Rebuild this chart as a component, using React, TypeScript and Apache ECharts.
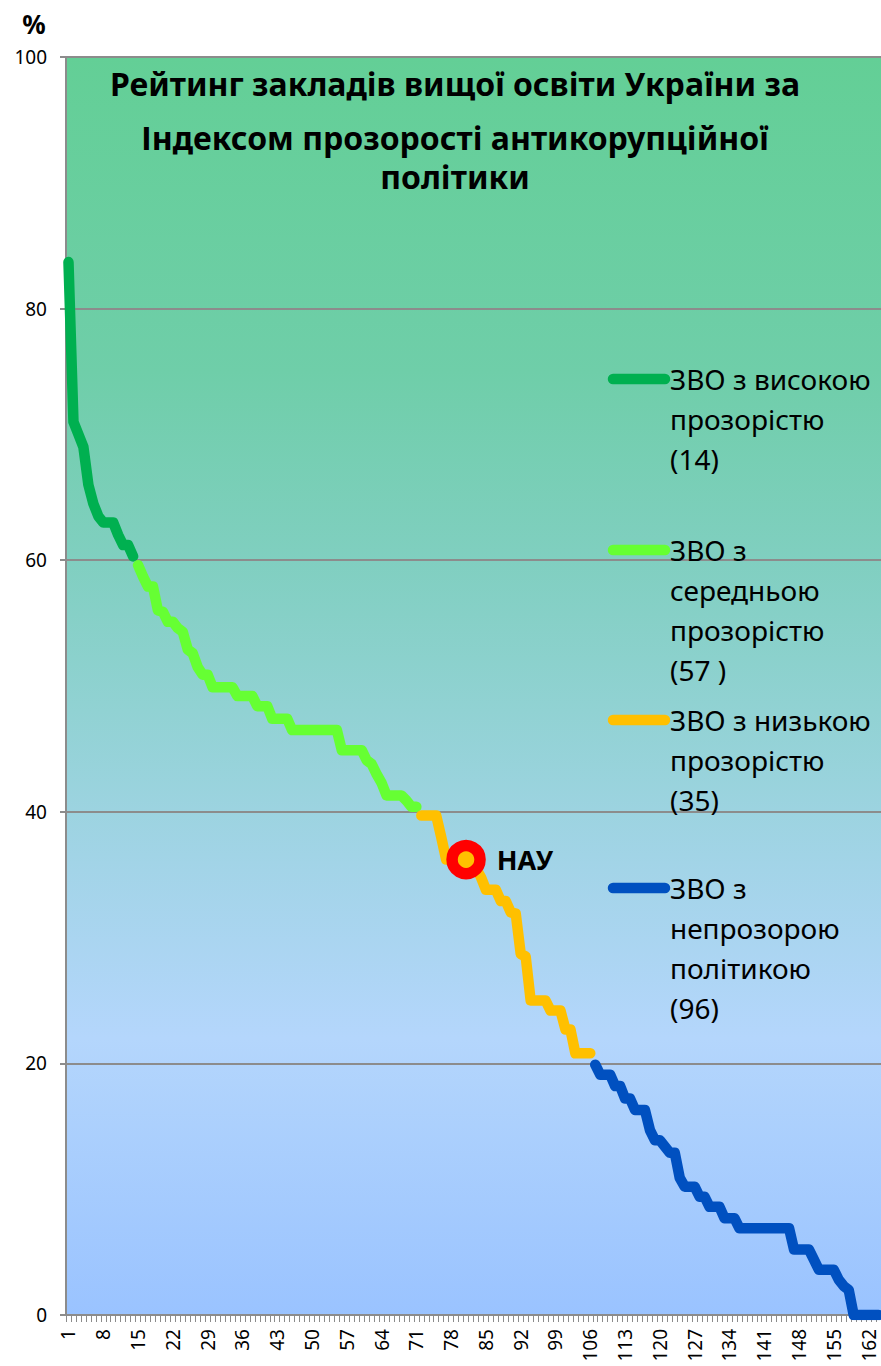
import React, { useEffect, useRef } from "react";
import * as echarts from "echarts";

// ---- data ----
const categories: string[] = Array.from({ length: 164 }, (_, i) => String(i + 1));

const highName = "ЗВО з високою прозорістю (14)";
const mediumName = "ЗВО з середньою прозорістю (57 )";
const lowName = "ЗВО з низькою прозорістю (35)";
const opaqueName = "ЗВО з непрозорою політикою (96)";

const highValues = [83.7, 71.0, 70.0, 69.0, 66.0, 64.5, 63.5, 63.0, 63.0, 63.0, 62.0, 61.2, 61.2, 60.3];
const mediumValues = [
  59.6, 58.7, 57.9, 57.9, 56.0, 55.9, 55.1, 55.1, 54.6, 54.3,
  52.9, 52.6, 51.5, 50.9, 50.9, 49.9, 49.9, 49.9, 49.9, 49.9,
  49.2, 49.2, 49.2, 49.2, 48.4, 48.4, 48.4, 47.4, 47.4, 47.4,
  47.4, 46.5, 46.5, 46.5, 46.5, 46.5, 46.5, 46.5, 46.5, 46.5,
  46.5, 44.9, 44.9, 44.9, 44.9, 44.9, 44.1, 43.8, 43.0, 42.3,
  41.3, 41.3, 41.3, 41.3, 40.9, 40.4, 40.4,
];
const lowValues = [
  39.7, 39.7, 39.7, 39.7, 38.0, 36.2, 36.2, 36.2, 36.2, 36.2,
  36.0, 35.5, 34.8, 33.8, 33.8, 33.8, 32.9, 32.9, 32.0, 31.9,
  28.7, 28.5, 25.0, 25.0, 25.0, 25.0, 24.2, 24.2, 24.2, 22.7,
  22.7, 20.8, 20.8, 20.8, 20.8,
];
const opaqueValues = [
  19.9, 19.1, 19.1, 19.1, 18.2, 18.2, 17.2, 17.2, 16.3, 16.3,
  16.3, 14.7, 13.9, 13.9, 13.4, 12.9, 12.9, 10.9, 10.2, 10.2,
  10.2, 9.4, 9.4, 8.6, 8.6, 8.6, 7.7, 7.7, 7.7, 6.9,
  6.9, 6.9, 6.9, 6.9, 6.9, 6.9, 6.9, 6.9, 6.9, 6.9,
  5.2, 5.2, 5.2, 5.2, 4.4, 3.6, 3.6, 3.6, 3.6, 2.8,
  2.3, 2.0, 0.0, 0.0, 0.0, 0.0, 0.0, 0.0,
];
const highStart = 0;
const mediumStart = 14;
const lowStart = 71;
const opaqueStart = 106;

const nauLabel = "НАУ";
const nauIndex = 80;
const nauValue = 36.2;

const titleLines = [
  "Рейтинг закладів вищої освіти України за",
  "Індексом прозорості антикорупційної",
  "політики",
];
const legendTexts = [
  "ЗВО з високою\nпрозорістю\n(14)",
  "ЗВО з\nсередньою\nпрозорістю\n(57 )",
  "ЗВО з низькою\nпрозорістю\n(35)",
  "ЗВО з\nнепрозорою\nполітикою\n(96)",
];
const yUnit = "%";

const colors = ["#00B050", "#66FF33", "#FFC000", "#0050C0"];

function pad(start: number, values: number[]): (number | null)[] {
  const out: (number | null)[] = new Array(categories.length).fill(null);
  values.forEach((v, i) => (out[start + i] = v));
  return out;
}

const FONT = "'Noto Sans', 'Open Sans', sans-serif";

export default function App() {
  const ref = useRef<HTMLDivElement>(null);
  useEffect(() => {
    if (!ref.current) return;
    const chart = echarts.init(ref.current, null, { renderer: "svg" });
    const legendY = [379, 550, 720, 888];
    const titleY = [83, 137, 176];
    const lineSeries = (name: string, start: number, values: number[], color: string) => ({
      name,
      type: "line",
      data: pad(start, values),
      showSymbol: false,
      symbol: "none",
      smooth: false,
      lineStyle: { color, width: 10.5, cap: "round", join: "round" },
      z: 3,
    });
    chart.setOption({
      animation: false,
      textStyle: { fontFamily: FONT },
      grid: {
        left: 66,
        right: 0,
        top: 57,
        bottom: 51,
        show: true,
        borderWidth: 0,
        backgroundColor: new echarts.graphic.LinearGradient(0, 0, 0, 1, [
          { offset: 0, color: "#63CF96" },
          { offset: 0.25, color: "#6FCEA9" },
          { offset: 0.4, color: "#80CFC0" },
          { offset: 0.52, color: "#91D2D3" },
          { offset: 0.64, color: "#A2D4E7" },
          { offset: 0.78, color: "#B4D6FC" },
          { offset: 1, color: "#9AC3FF" },
        ]),
      },
      xAxis: {
        type: "category",
        data: categories,
        boundaryGap: true,
        axisLine: { show: true, lineStyle: { color: "#8C8C8C", width: 2 } },
        axisTick: { show: true, interval: 0, length: 7, lineStyle: { color: "#8C8C8C", width: 1 } },
        axisLabel: {
          interval: 6,
          rotate: 90,
          margin: 14,
          fontSize: 19,
          color: "#000",
          fontFamily: FONT,
        },
        splitLine: { show: false },
      },
      yAxis: {
        type: "value",
        min: 0,
        max: 100,
        interval: 20,
        axisLine: { show: true, lineStyle: { color: "#8C8C8C", width: 2 } },
        axisTick: { show: true, length: 6, lineStyle: { color: "#8C8C8C", width: 2 } },
        axisLabel: { fontSize: 19, color: "#000", margin: 19, fontFamily: FONT },
        splitLine: { show: true, lineStyle: { color: "#8C8C8C", width: 2 } },
      },
      series: [
        lineSeries(highName, highStart, highValues, colors[0]),
        lineSeries(mediumName, mediumStart, mediumValues, colors[1]),
        lineSeries(lowName, lowStart, lowValues, colors[2]),
        lineSeries(opaqueName, opaqueStart, opaqueValues, colors[3]),
        {
          name: nauLabel,
          type: "scatter",
          data: [[nauIndex, nauValue]],
          symbol: "circle",
          symbolSize: 28,
          itemStyle: { color: "#FFC000", borderColor: "#FF0000", borderWidth: 11.5, opacity: 1 },
          label: {
            show: true,
            position: "right",
            distance: 11,
            formatter: nauLabel,
            fontSize: 27,
            fontWeight: "bold",
            color: "#000",
            fontFamily: FONT,
          },
          z: 5,
        },
      ],
      graphic: [
        {
          type: "text",
          x: 34,
          y: 24,
          style: {
            text: yUnit,
            font: `bold 26px ${FONT}`,
            fill: "#000",
            textAlign: "center",
            textVerticalAlign: "middle",
          },
        },
        ...titleLines.map((t, i) => ({
          type: "text",
          x: 455,
          y: titleY[i],
          style: {
            text: t,
            font: `bold 32px ${FONT}`,
            lineHeight: 34,
            fill: "#000",
            textAlign: "center",
            textVerticalAlign: "middle",
          },
          z: 10,
        })),
        ...legendTexts.flatMap((t, i) => [
          {
            type: "line",
            shape: { x1: 613, y1: legendY[i], x2: 665, y2: legendY[i] },
            style: { stroke: colors[i], lineWidth: 10.5, lineCap: "round" },
            z: 10,
          },
          {
            type: "text",
            x: 670,
            y: legendY[i] - 20,
            style: {
              text: t,
              font: `28px ${FONT}`,
              lineHeight: 40,
              fill: "#000",
              textAlign: "left",
              textVerticalAlign: "top",
            },
            z: 10,
          },
        ]),
      ],
    });
    return () => chart.dispose();
  }, []);
  return (
    <div
      ref={ref}
      style={{ position: "absolute", left: 0, top: 0, width: 881, height: 1366 }}
    />
  );
}
